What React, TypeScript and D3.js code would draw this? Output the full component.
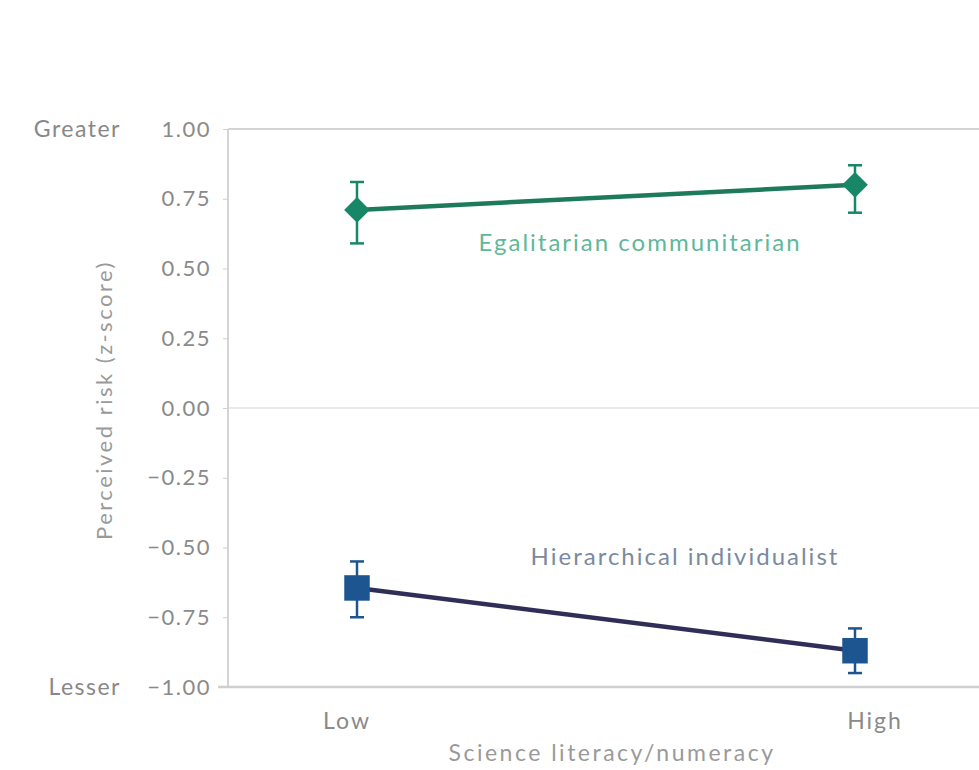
import {useEffect, useRef} from "react";
import * as d3 from "d3";

// values
const categories = ["Low", "High"];
const yTicks = [1, 0.75, 0.5, 0.25, 0, -0.25, -0.5, -0.75, -1];

const egalMean = [0.71, 0.80];
const egalLow = [0.59, 0.70];
const egalHigh = [0.81, 0.87];

const hierMean = [-0.645, -0.87];
const hierLow = [-0.75, -0.95];
const hierHigh = [-0.55, -0.79];

const App = () => {
    const ref = useRef<SVGSVGElement | null>(null);

    useEffect(() => {
        const svg = d3.select(ref.current);
        svg.selectAll("*").remove();

        const width = 979;
        const left = 228, top = 129, bottom = 687;

        const x = d3.scalePoint().domain(categories).range([357, 855]);
        const y = d3.scaleLinear().domain([-1, 1]).range([bottom, top]);

        const txt = (sel: any, size: number, color: string, ls: number) =>
            sel.attr("font-family", "Lato").attr("font-size", size).attr("fill", color)
                .attr("letter-spacing", ls);

        // frame
        svg.append("line").attr("x1", left).attr("x2", width).attr("y1", top).attr("y2", top)
            .attr("stroke", "#d4d4d4").attr("stroke-width", 2);
        svg.append("line").attr("x1", left).attr("x2", width).attr("y1", y(0)).attr("y2", y(0))
            .attr("stroke", "#e2e2e2").attr("stroke-width", 1.5);
        svg.append("line").attr("x1", left).attr("x2", left).attr("y1", top).attr("y2", bottom)
            .attr("stroke", "#d4d4d4").attr("stroke-width", 2);
        svg.append("line").attr("x1", left - 10).attr("x2", width).attr("y1", bottom).attr("y2", bottom)
            .attr("stroke", "#cfcfcf").attr("stroke-width", 2.5);

        // y axis
        const fmt = (d: number) => (d < 0 ? "\u2212" : "") + Math.abs(d).toFixed(2);
        const yAxis = svg.append("g").attr("transform", `translate(${left},0)`)
            .call(d3.axisLeft(y).tickValues(yTicks).tickSize(5).tickFormat(fmt as any));
        yAxis.select(".domain").remove();
        yAxis.selectAll(".tick line").attr("stroke", "#cfcfcf");
        txt(yAxis.selectAll(".tick text"), 22, "#8a8a8a", 1.5).attr("x", -17);

        txt(svg.append("text").attr("x", 121).attr("y", y(1)).attr("dy", "0.35em")
            .attr("text-anchor", "end"), 23, "#888", 1.5).text("Greater");
        txt(svg.append("text").attr("x", 121).attr("y", y(-1)).attr("dy", "0.35em")
            .attr("text-anchor", "end"), 23, "#888", 1.5).text("Lesser");

        txt(svg.append("text")
            .attr("transform", `translate(112,${y(0) - 8}) rotate(-90)`)
            .attr("text-anchor", "middle"), 22, "#9a9a9a", 2.5).text("Perceived risk (z-score)");

        // x labels
        categories.forEach(c => {
            txt(svg.append("text").attr("x", x(c)! + (c === "High" ? 20 : -10)).attr("y", 729)
                .attr("text-anchor", "middle"), 23, "#8a8a8a", 2).text(c);
        });
        txt(svg.append("text").attr("x", 612).attr("y", 761)
            .attr("text-anchor", "middle"), 23, "#9a9a9a", 2.5).text("Science literacy/numeracy");

        const drawSeries = (mean: number[], lo: number[], hi: number[], lineColor: string,
                            markColor: string, shape: any, size: number, rot: number) => {
            const line = d3.line<number>().x((d, i) => x(categories[i])!).y(d => y(d));
            svg.append("path").datum(mean).attr("fill", "none")
                .attr("stroke", lineColor).attr("stroke-width", 4.5).attr("d", line);
            mean.forEach((m, i) => {
                const cx = x(categories[i])!;
                svg.append("line").attr("x1", cx).attr("x2", cx).attr("y1", y(lo[i])).attr("y2", y(hi[i]))
                    .attr("stroke", markColor).attr("stroke-width", 2.5);
                [lo[i], hi[i]].forEach(v => {
                    svg.append("line").attr("x1", cx - 7).attr("x2", cx + 7).attr("y1", y(v)).attr("y2", y(v))
                        .attr("stroke", markColor).attr("stroke-width", 2.5);
                });
                svg.append("path").attr("transform", `translate(${cx},${y(m)}) rotate(${rot})`)
                    .attr("d", d3.symbol().type(shape).size(size)()!).attr("fill", markColor);
            });
        };

        drawSeries(egalMean, egalLow, egalHigh, "#1e7a5c", "#178767", d3.symbolSquare, 330, 45);
        drawSeries(hierMean, hierLow, hierHigh, "#2e2e58", "#1d5590", d3.symbolSquare, 650, 0);

        txt(svg.append("text").attr("x", 640).attr("y", 251)
            .attr("text-anchor", "middle"), 24, "#5fb89a", 2).text("Egalitarian communitarian");
        txt(svg.append("text").attr("x", 685).attr("y", 565)
            .attr("text-anchor", "middle"), 24, "#7b8aa0", 2).text("Hierarchical individualist");
    }, []);

    return (
        <div style={{position: "absolute", left: 0, top: 0}}>
            <svg ref={ref} width={979} height={770} style={{display: "block", background: "#fff"}}></svg>
        </div>
    );
};

export default App;
